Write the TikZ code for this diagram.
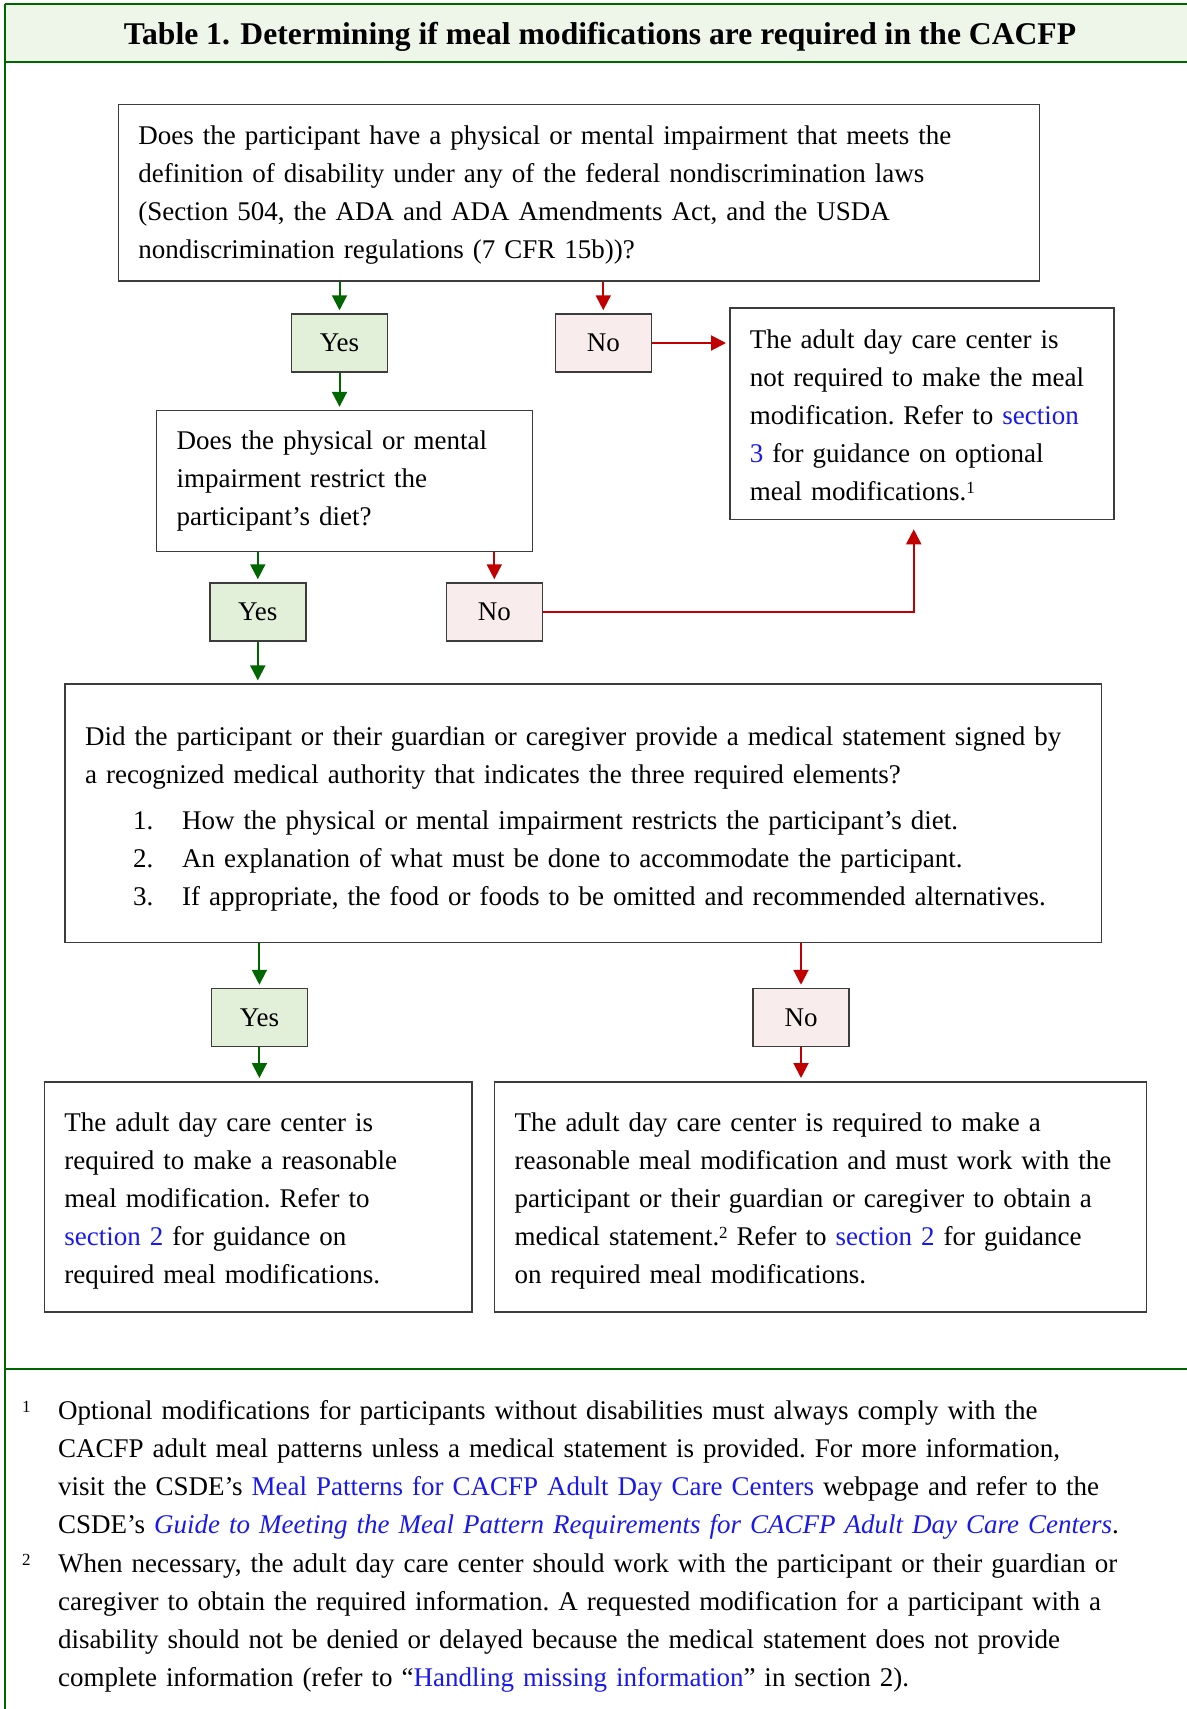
\documentclass[tikz,border=0pt]{standalone}
\usepackage{fontspec}
\setmainfont{Liberation Serif}
\usetikzlibrary{arrows.meta}

\definecolor{framegreen}{RGB}{0,102,0}
\definecolor{titlefill}{RGB}{238,245,233}
\definecolor{yesfill}{RGB}{226,239,217}
\definecolor{nofill}{RGB}{249,236,236}
\definecolor{arrowgreen}{RGB}{0,102,0}
\definecolor{arrowred}{RGB}{192,0,0}
\definecolor{boxgray}{RGB}{60,60,60}
\definecolor{linkblue}{RGB}{25,25,235}

\newcommand{\bodyfont}{\fontsize{13.5}{19.05}\selectfont\frenchspacing}
\newcommand{\weblink}[1]{\textcolor{linkblue}{#1}}
\newcommand{\notemark}[1]{\raisebox{3.5pt}{\fontsize{8.5}{9}\selectfont #1}}
\newcommand{\toppad}[1]{\rule{0pt}{#1}}

\tikzset{
	frameline/.style={draw=framegreen,line width=1pt},
	qbox/.style={draw=boxgray,line width=0.75pt,anchor=north west,align=left,inner xsep=10pt,inner ysep=0pt,font=\bodyfont},
	yesbox/.style={draw=boxgray,line width=0.75pt,fill=yesfill,minimum width=48pt,minimum height=29pt,inner sep=0pt,font=\bodyfont},
	nobox/.style={yesbox,fill=nofill},
	yesarrow/.style={draw=arrowgreen,line width=1pt,-{Triangle[length=7.5pt,width=7.5pt]},shorten >=1.5pt},
	noarrow/.style={yesarrow,draw=arrowred},
	footnote/.style={anchor=base west,align=left,inner sep=0pt,text width=552pt,font=\bodyfont},
	fnmark/.style={anchor=base west,inner sep=0pt,font=\bodyfont}
}

\begin{document}
\begin{tikzpicture}[x=0.5pt,y=-0.5pt]

	\useasboundingbox (0,0) rectangle (1187,1709);

	\fill[titlefill] (5,4) rectangle (1187,62);
	\draw[frameline] (5,4) -- (1187,4);
	\draw[frameline] (5,62) -- (1187,62);
	\draw[frameline] (5,4) -- (5,1709);
	\draw[frameline] (5,1369) -- (1187,1369);

	\node[font=\fontsize{15.8}{18}\selectfont\bfseries] (title) at (600,37) {Table 1. Determining if meal modifications are required in the CACFP};

	\node[qbox,text width=440.5pt,minimum height=88.25pt] (disability) at (117.7,103.6) {\toppad{11.5pt}Does the participant have a physical or mental impairment that meets the\\definition of disability under any of the federal nondiscrimination laws\\(Section 504, the ADA and ADA Amendments Act, and the USDA\\nondiscrimination regulations (7 CFR 15b))?};

	\node[yesbox] (yes1) at (339.5,343) {Yes};
	\node[nobox] (no1) at (603.3,343) {No};

	\node[qbox,text width=172pt,minimum height=105.7pt] (notreq) at (729,307.4) {\toppad{11pt}The adult day care center is\\not required to make the meal\\modification. Refer to \weblink{section}\\\weblink{3} for guidance on optional\\meal modifications.\notemark{1}};

	\node[qbox,text width=168pt,minimum height=70.35pt] (restrict) at (155.9,409.8) {Does the physical or mental\\impairment restrict the\\participant's diet?};

	\node[yesbox] (yes2) at (257.8,612) {Yes};
	\node[nobox] (no2) at (494.3,612) {No};

	\node[qbox,text width=498.3pt,minimum height=129.2pt] (statement) at (64.3,683.4) {\toppad{15pt}Did the participant or their guardian or caregiver provide a medical statement signed by\\a recognized medical authority that indicates the three required elements?\\[3.85pt]\hspace*{24pt}\makebox[24.5pt][l]{1.}How the physical or mental impairment restricts the participant's diet.\\\hspace*{24pt}\makebox[24.5pt][l]{2.}An explanation of what must be done to accommodate the participant.\\\hspace*{24pt}\makebox[24.5pt][l]{3.}If appropriate, the food or foods to be omitted and recommended alternatives.};

	\node[yesbox] (yes3) at (259.4,1017.5) {Yes};
	\node[nobox] (no3) at (801,1017.5) {No};

	\node[qbox,text width=193.7pt,minimum height=115.2pt] (reqmod) at (43.6,1081) {\toppad{13.5pt}The adult day care center is\\required to make a reasonable\\meal modification. Refer to\\\weblink{section 2} for guidance on\\required meal modifications.};

	\node[qbox,text width=305.9pt,minimum height=115.2pt] (reqstmt) at (493.8,1081) {\toppad{13.5pt}The adult day care center is required to make a\\reasonable meal modification and must work with the\\participant or their guardian or caregiver to obtain a\\medical statement.\notemark{2} Refer to \weblink{section 2} for guidance\\on required meal modifications.};

	\draw[yesarrow] (disability.south -| yes1) -- (yes1.north);
	\draw[noarrow] (disability.south -| no1) -- (no1.north);
	\draw[noarrow] (no1.east) -- (no1.east -| notreq.west);
	\draw[yesarrow] (yes1.south) -- (yes1.south |- restrict.north);
	\draw[yesarrow] (restrict.south -| yes2) -- (yes2.north);
	\draw[noarrow] (restrict.south -| no2) -- (no2.north);
	\draw[noarrow,shorten >=4.5pt] (no2.east) -| ([xshift=-4pt]notreq.south);
	\draw[yesarrow] (yes2.south) -- (yes2.south |- statement.north);
	\draw[yesarrow] (statement.south -| yes3) -- (yes3.north);
	\draw[noarrow] (statement.south -| no3) -- (no3.north);
	\draw[yesarrow] (yes3.south) -- (yes3.south |- reqmod.north);
	\draw[noarrow] (no3.south) -- (no3.south |- reqstmt.north);

	\node[fnmark] (mark1) at (21.8,1419.5) {\notemark{1}};
	\node[footnote] (note1) at (57.8,1419.5) {Optional modifications for participants without disabilities must always comply with the\\CACFP adult meal patterns unless a medical statement is provided. For more information,\\visit the CSDE's \weblink{Meal Patterns for CACFP Adult Day Care Centers} webpage and refer to the\\CSDE's \weblink{\textit{Guide to Meeting the Meal Pattern Requirements for CACFP Adult Day Care Centers}}.};

	\node[fnmark] (mark2) at (21.8,1572) {\notemark{2}};
	\node[footnote] (note2) at (57.8,1572) {When necessary, the adult day care center should work with the participant or their guardian or\\caregiver to obtain the required information. A requested modification for a participant with a\\disability should not be denied or delayed because the medical statement does not provide\\complete information (refer to ``\weblink{Handling missing information}'' in section 2).};

\end{tikzpicture}
\end{document}
